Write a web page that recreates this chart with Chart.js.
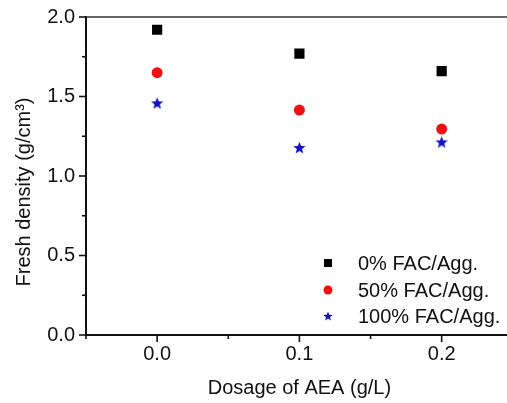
<!DOCTYPE html>
<html><head><meta charset="utf-8">
<script src="https://cdn.jsdelivr.net/npm/chart.js@4/dist/chart.umd.min.js"></script>
<style>
html,body{margin:0;padding:0;overflow:hidden;background:#fff;width:507px;height:403px}
#wrap{width:520px;height:403px;position:relative}
canvas{display:block}
</style>
</head><body><div id="wrap"><canvas id="c" width="520" height="403"></canvas></div>
<script>
// ---- data ----
const dosage = [0.0, 0.1, 0.2];
const fac0 = [1.92, 1.77, 1.66];
const fac50 = [1.65, 1.415, 1.295];
const fac100 = [1.46, 1.18, 1.215];
const seriesLabels = ['0% FAC/Agg.', '50% FAC/Agg.', '100% FAC/Agg.'];
const xTickValues = [0.0, 0.1, 0.2];
const xMinorValues = [-0.05, 0.05, 0.15, 0.25];
const yTickValues = [0.0, 0.5, 1.0, 1.5, 2.0];
const yMinorValues = [0.25, 0.75, 1.25, 1.75];
const xTitle = 'Dosage of AEA (g/L)';
const yTitle = 'Fresh density (g/cm\u00B3)';

const FONT = '"Liberation Sans", Arial, sans-serif';
const BLUE = '#1010c4';
const RED = '#ee1111';

function starCanvas(size, color) {
  const c = document.createElement('canvas');
  c.width = c.height = size;
  const g = c.getContext('2d');
  g.fillStyle = color;
  g.beginPath();
  const cx = size / 2, cy = size / 2 + size * 0.05, R = size / 2, r = R * 0.42;
  for (let i = 0; i < 10; i++) {
    const a = -Math.PI / 2 + i * Math.PI / 5;
    const rad = i % 2 ? r : R;
    g.lineTo(cx + rad * Math.cos(a), cy + rad * Math.sin(a));
  }
  g.closePath();
  g.fill();
  return c;
}
const starBig = starCanvas(13, BLUE);
const starSmall = starCanvas(10, BLUE);

const toPts = (ys) => dosage.map((x, i) => ({ x: x, y: ys[i] }));

const axesPlugin = {
  id: 'axesExtras',
  afterDraw(chart) {
    const ctx = chart.ctx, ca = chart.chartArea, xs = chart.scales.x, ys = chart.scales.y;
    ctx.save();
    ctx.strokeStyle = '#111';
    ctx.lineWidth = 1.6;
    const line = (x1, y1, x2, y2) => { ctx.beginPath(); ctx.moveTo(x1, y1); ctx.lineTo(x2, y2); ctx.stroke(); };
    yTickValues.forEach(v => { const p = ys.getPixelForValue(v); line(ca.left - 7, p, ca.left, p); });
    yMinorValues.forEach(v => { const p = ys.getPixelForValue(v); line(ca.left - 4, p, ca.left, p); });
    xTickValues.forEach(v => { const p = xs.getPixelForValue(v); line(p, ca.bottom, p, ca.bottom + 7); });
    xMinorValues.forEach(v => { const p = xs.getPixelForValue(v); line(p, ca.bottom, p, ca.bottom + 4); });
    // top and right frame
    ctx.strokeStyle = '#333';
    ctx.lineWidth = 1.4;
    line(ca.left, ca.top, ca.right, ca.top);
    line(ca.right, ca.top, ca.right, ca.bottom);
    // y title
    ctx.fillStyle = '#111';
    ctx.font = '20px ' + FONT;
    ctx.textAlign = 'center';
    ctx.textBaseline = 'middle';
    ctx.save();
    ctx.translate(24, 192);
    ctx.rotate(-Math.PI / 2);
    ctx.fillText(yTitle, 0, 0);
    ctx.restore();
    // legend
    const rows = [263, 290, 316];
    const mx = 328, tx = 358;
    chart.data.datasets.forEach((ds, i) => {
      const yy = rows[i];
      if (i === 0) { ctx.fillStyle = '#000'; ctx.fillRect(mx - 4, yy - 4, 8, 8); }
      else if (i === 1) { ctx.fillStyle = RED; ctx.beginPath(); ctx.arc(mx, yy, 4.5, 0, Math.PI * 2); ctx.fill(); }
      else { ctx.drawImage(starSmall, mx - 5, yy - 5); }
      ctx.fillStyle = '#111';
      ctx.textAlign = 'left';
      ctx.fillText(ds.label, tx, yy + 1);
    });
    ctx.restore();
  }
};

new Chart(document.getElementById('c'), {
  type: 'scatter',
  data: {
    datasets: [
      { label: seriesLabels[0], data: toPts(fac0), pointStyle: 'rect', pointRadius: 7.2, backgroundColor: '#000', borderColor: '#000', borderWidth: 0 },
      { label: seriesLabels[1], data: toPts(fac50), pointStyle: 'circle', pointRadius: 5.5, backgroundColor: RED, borderColor: RED, borderWidth: 0 },
      { label: seriesLabels[2], data: toPts(fac100), pointStyle: starBig, pointRadius: 6, backgroundColor: BLUE, borderColor: BLUE }
    ]
  },
  options: {
    responsive: false,
    animation: false,
    devicePixelRatio: 1,
    layout: { padding: { top: 17, right: 6.5, left: 0, bottom: 0 } },
    plugins: { legend: { display: false }, tooltip: { enabled: false } },
    scales: {
      x: {
        type: 'linear', min: -0.05, max: 0.25,
        afterBuildTicks: (s) => { s.ticks = xTickValues.map(v => ({ value: v })); },
        afterFit: (s) => { s.height = 68; s.paddingLeft = 0; s.paddingRight = 0; },
        grid: { display: false, drawTicks: false },
        border: { display: true, color: '#111', width: 2 },
        ticks: { padding: 7, color: '#111', font: { size: 20, family: FONT }, callback: (v) => Number(v).toFixed(1), maxRotation: 0 },
        title: { display: true, text: xTitle, color: '#111', font: { size: 20, family: FONT }, padding: { top: 0, bottom: 3 } }
      },
      y: {
        type: 'linear', min: 0, max: 2.0,
        afterBuildTicks: (s) => { s.ticks = yTickValues.map(v => ({ value: v })); },
        afterFit: (s) => { s.width = 86; s.paddingTop = 0; s.paddingBottom = 0; },
        grid: { display: false, drawTicks: false },
        border: { display: true, color: '#111', width: 2 },
        ticks: { padding: 11, color: '#111', font: { size: 20, family: FONT }, callback: (v) => Number(v).toFixed(1) }
      }
    }
  },
  plugins: [axesPlugin]
});
</script>
</body></html>
